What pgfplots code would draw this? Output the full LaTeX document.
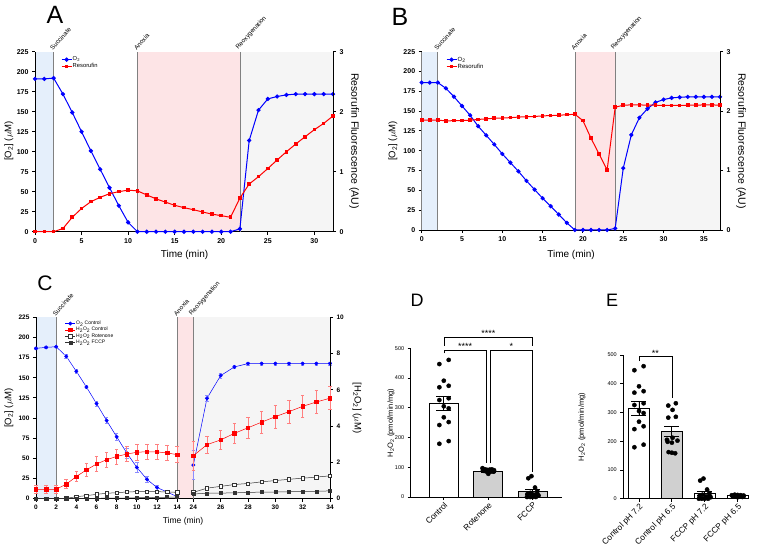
\documentclass[border=0pt]{standalone}
\usepackage{fontspec}
\setmainfont{Liberation Sans}
\usepackage{pgfplots}
\usepackage{pgfplotstable}
\pgfplotsset{compat=1.18}
\definecolor{cblue}{HTML}{0000FF}
\definecolor{cred}{HTML}{FF0000}
\definecolor{shblue}{HTML}{E5EFFB}
\definecolor{shpink}{HTML}{FDE4E6}
\definecolor{shgray}{HTML}{F5F5F5}
\definecolor{vgray}{HTML}{808080}
\definecolor{bargray}{HTML}{D0D0D0}
\definecolor{dgray}{HTML}{333333}
\newcommand{\fs}[1]{\fontsize{#1}{#1}\selectfont}

\pgfplotsset{
  base/.style={scale only axis, anchor=south west, clip=false,
    /pgf/number format/assume math mode=true,
    axis line style={line width=0.9pt, black},
    tick style={line width=0.9pt, black},
    major tick length=3pt, tick align=outside,
    tick label style={font=\fs{7}\bfseries},
  },
  tl/.style={base, set layers},
  leg/.style={legend cell align=left,
    legend style={draw=none, fill=none, font=\fs{#1}, nodes={inner sep=0.6pt}, row sep=0pt},
    legend image code/.code={\draw[mark repeat=2,mark phase=2,##1] plot coordinates {(0pt,0pt) (5pt,0pt) (10pt,0pt)};}},
  bars/.style={scale only axis, anchor=south west, clip=false,
    /pgf/number format/assume math mode=true,
    axis x line*=bottom, axis y line*=left,
    axis line style={line width=0.9pt, black},
    tick style={line width=0.8pt, black}, major tick length=3pt, tick align=outside,
    ymin=0, ymax=500, ytick={0,100,...,500},
    yticklabel style={font=\fs{5.5}},
    xticklabel style={rotate=45, anchor=north east, font=\fs{8.3}, inner sep=1pt},
  },
  bp/.style={ybar, bar shift=0pt, bar width=0.65, draw=black, line width=0.9pt,
    error bars/.cd, y dir=both, y explicit,
    error bar style={line width=0.9pt, black},
    error mark options={rotate=90, mark size=7.5pt, line width=0.9pt, black}},
  dots/.style={only marks, mark=*, mark size=2.1pt, black},
}

\newcommand{\vl}[3]{\draw[vgray, line width=0.7pt] (axis cs:#1,0) -- (axis cs:#1,#3) node[anchor=south west, rotate=48, font=\fs{6.3}, inner sep=0.8pt, xshift=-0.8pt, black] {#2};}

\pgfplotstableread{
t o2 res
0 191 0
1 191 0
2 192 0
3 172 0.053
4 149 0.24
5 125 0.387
6 101 0.5
7 78 0.573
8 55 0.633
9 32.5 0.667
10 11.7 0.693
11 0 0.68
12 0 0.613
13 0 0.547
14 0 0.493
15 0 0.44
16 0 0.4
17 0 0.367
18 0 0.328
19 0 0.293
20 0 0.267
21 0 0.24
22 3.5 0.56
23 114 0.795
24 152 0.917
25 166 1.053
26 169 1.195
27 171 1.333
28 172 1.461
29 172 1.583
30 172 1.7
31 172 1.805
32 172 1.928
}\tabA

\pgfplotstableread{
t o2 res
0 186 1.85
1 186 1.85
2 186 1.85
3 178.8 1.835
4 168.2 1.84
5 156.5 1.843
6 144.8 1.847
7 131 1.86
8 119.5 1.87
9 108 1.88
10 96 1.885
11 85 1.89
12 74 1.9
13 62 1.905
14 51 1.91
15 40 1.92
16 30 1.925
17 19.5 1.93
18 9 1.94
19 0 1.947
20 0 1.84
21 0 1.543
22 0 1.279
23 0 1.01
24 2 2.065
25 78 2.1
26 120 2.105
27 141.7 2.105
28 153 2.1
29 161 2.1
30 164.6 2.095
31 166.7 2.095
32 167.5 2.095
33 168 2.1
34 168 2.1
35 168 2.105
36 168 2.105
37 168 2.1
}\tabB

\pgfplotstableread{
t o2 e
0 186.5 1
1 187.7 1
2 188.5 1
3 176.6 2
4 158 2
5 138.5 2
6 118 3
7 97 4
8 76.7 4
9 56.7 6
10 38.8 6
11 24 4
12 13.8 3
13 8.3 2
14 2.5 2
19 nan 0
24 41.7 18
25 124.6 4
26 152.7 3
27 163.4 2
28 167.6 2
29 167.6 2
30 167.6 2
31 167.6 2
32 167.6 2
33 167.6 2
34 167.6 2
}\tabCo

\pgfplotstableread{
t hc ec hr hf
0 0.52 0.22 0 0
1 0.52 0.22 0 0
2 0.52 0.22 0 0
3 0.80 0.25 0.02 0
4 1.22 0.28 0.11 0
5 1.59 0.35 0.17 0.02
6 1.91 0.40 0.24 0.02
7 2.15 0.42 0.30 0.03
8 2.33 0.42 0.33 0.03
9 2.46 0.42 0.37 0.04
10 2.56 0.42 0.39 0.05
11 2.59 0.42 0.39 0.06
12 2.58 0.42 0.39 0.07
13 2.52 0.42 0.37 0.08
14 2.43 0.45 0.35 0.09
19 nan 0 nan nan
24 2.37 0.8 0.35 0.26
25 2.98 0.45 0.58 0.30
26 3.24 0.53 0.68 0.31
27 3.60 0.55 0.78 0.32
28 3.91 0.57 0.84 0.35
29 4.22 0.60 0.93 0.36
30 4.52 0.62 1.00 0.37
31 4.80 0.63 1.07 0.38
32 5.09 0.63 1.13 0.40
33 5.33 0.63 1.19 0.41
34 5.54 0.63 1.26 0.43
}\tabCh

\begin{document}
\begin{tikzpicture}

%%%%%%%%%%%%%%%% Panel A
\begin{axis}[tl, leg=5.8, at={(35pt,314.3pt)}, width=298pt, height=180pt,
  xmin=0, xmax=32, ymin=0, ymax=225,
  axis x line*=bottom, axis y line*=left,
  xtick={0,5,...,30}, ytick={0,25,...,225},
  legend style={at={(0.077,0.987)}, anchor=north west}]
\begin{pgfonlayer}{axis background}
\fill[shblue] (axis cs:0,0) rectangle (axis cs:2,225);
\fill[shpink] (axis cs:11,0) rectangle (axis cs:22,225);
\fill[shgray] (axis cs:22,0) rectangle (axis cs:32,225);
\end{pgfonlayer}
\vl{2}{Succinate}{225}
\vl{11}{Anoxia}{225}
\vl{22}{Reoxygenation}{225}
\addplot[cblue, line width=1pt, mark=*, mark size=1.6pt] table[x=t,y=o2]{\tabA};
\addlegendentry{O\textsubscript{2}}
\addlegendimage{cred, line width=1pt, mark=square*, mark size=1.3pt}
\addlegendentry{Resorufin}
\end{axis}
\begin{axis}[base, at={(35pt,314.3pt)}, width=298pt, height=180pt,
  xmin=0, xmax=32, ymin=0, ymax=3,
  axis y line*=right, axis x line=none, ytick={0,1,2,3}]
\addplot[cred, line width=1pt, mark=square*, mark size=1.3pt] table[x=t,y=res]{\tabA};
\end{axis}

%%%%%%%%%%%%%%%% Panel B
\begin{axis}[tl, leg=6, at={(421.7pt,316pt)}, width=298.3pt, height=178.3pt,
  xmin=0, xmax=37, ymin=0, ymax=225,
  axis x line*=bottom, axis y line*=left,
  xtick={0,5,...,35}, ytick={0,25,...,225},
  legend style={at={(0.071,0.987)}, anchor=north west}]
\begin{pgfonlayer}{axis background}
\fill[shblue] (axis cs:0,0) rectangle (axis cs:2,225);
\fill[shpink] (axis cs:19,0) rectangle (axis cs:24,225);
\fill[shgray] (axis cs:24,0) rectangle (axis cs:37,225);
\end{pgfonlayer}
\draw[vgray, line width=0.7pt] (axis cs:0,0) -- (axis cs:0,225);
\vl{2}{Succinate}{225}
\vl{19}{Anoxia}{225}
\vl{24}{Reoxygenation}{225}
\addplot[cblue, line width=1pt, mark=*, mark size=1.6pt] table[x=t,y=o2]{\tabB};
\addlegendentry{O\textsubscript{2}}
\addlegendimage{cred, line width=1pt, mark=square*, mark size=1.3pt}
\addlegendentry{Resorufin}
\end{axis}
\begin{axis}[base, at={(421.7pt,316pt)}, width=298.3pt, height=178.3pt,
  xmin=0, xmax=37, ymin=0, ymax=3,
  axis y line*=right, axis x line=none, ytick={0,1,2,3}]
\addplot[cred, line width=1pt, mark=square*, mark size=1.3pt] table[x=t,y=res]{\tabB};
\end{axis}

%%%%%%%%%%%%%%%% Panel C
\begin{axis}[tl, at={(36pt,47.3pt)}, width=294pt, height=181.4pt,
  xmin=0, xmax=29.15, ymin=0, ymax=225,
  axis x line*=bottom, axis y line*=left,
  xtick={0,2,4,6,8,10,12,14,15.6,18.31,21.02,23.73,26.44,29.15},
  xticklabels={0,2,4,6,8,10,12,14,24,26,28,30,32,34},
  ytick={0,25,...,225}, tick label style={font=\fs{6.5}\bfseries}]
\begin{pgfonlayer}{axis background}
\fill[shblue] (axis cs:0,0) rectangle (axis cs:2,225);
\fill[shpink] (axis cs:14,0) rectangle (axis cs:15.6,225);
\fill[shgray] (axis cs:15.6,0) rectangle (axis cs:29.15,225);
\end{pgfonlayer}
\vl{2}{Succinate}{225}
\vl{14}{Anoxia}{225}
\vl{15.6}{Reoxygenation}{225}
\addplot[cblue, line width=0.5pt, mark=*, mark size=1.7pt, unbounded coords=jump,
  error bars/.cd, y dir=both, y explicit,
  error bar style={cblue!45, line width=0.6pt},
  error mark options={rotate=90, mark size=1.8pt, cblue!45, line width=0.6pt}]
  table[x expr={\thisrow{t}<20 ? \thisrow{t} : 15.6+1.355*(\thisrow{t}-24)}, y=o2, y error=e]{\tabCo};
\end{axis}
\begin{axis}[base, leg=5, at={(36pt,47.3pt)}, width=294pt, height=181.4pt,
  xmin=0, xmax=29.15, ymin=0, ymax=10,
  axis y line*=right, axis x line=none, ytick={0,2,...,10},
  tick label style={font=\fs{6.5}\bfseries},
  legend style={at={(0.088,0.995)}, anchor=north west}]
\addlegendimage{cblue, line width=0.5pt, mark=*, mark size=1.7pt}
\addlegendentry{O\textsubscript{2} Control}
\addplot[cred, line width=0.5pt, mark=square*, mark size=1.7pt, unbounded coords=jump,
  error bars/.cd, y dir=both, y explicit,
  error bar style={cred!50, line width=0.6pt},
  error mark options={rotate=90, mark size=1.8pt, cred!50, line width=0.6pt}]
  table[x expr={\thisrow{t}<20 ? \thisrow{t} : 15.6+1.355*(\thisrow{t}-24)}, y=hc, y error=ec]{\tabCh};
\addlegendentry{H\textsubscript{2}O\textsubscript{2} Control}
\addplot[dgray, line width=0.5pt, mark=square*, mark size=1.7pt, mark options={fill=white}, unbounded coords=jump]
  table[x expr={\thisrow{t}<20 ? \thisrow{t} : 15.6+1.355*(\thisrow{t}-24)}, y=hr]{\tabCh};
\addlegendentry{H\textsubscript{2}O\textsubscript{2} Rotenone}
\addplot[dgray, line width=0.5pt, mark=square*, mark size=1.5pt, unbounded coords=jump]
  table[x expr={\thisrow{t}<20 ? \thisrow{t} : 15.6+1.355*(\thisrow{t}-24)}, y=hf]{\tabCh};
\addlegendentry{H\textsubscript{2}O\textsubscript{2} FCCP}
\end{axis}

%%%%%%%%%%%%%%%% Panel D
\begin{axis}[bars, at={(410.7pt,49pt)}, width=151pt, height=148.7pt,
  xmin=-0.744, xmax=2.65, xtick={0,1,2}, xticklabels={Control,Rotenone,FCCP}]
\addplot[fill=white, bp] coordinates {(0,315) +- (0,24)};
\addplot[fill=bargray, bp] coordinates {(1,87) +- (0,3)};
\addplot[fill=bargray, bp] coordinates {(2,18) +- (0,8)};
\addplot[dots] coordinates {(-0.1,447) (0.11,461) (0,391) (-0.1,369) (0.11,374) (-0.1,326) (0.11,332) (0,305) (0.11,298) (0,268) (-0.1,242) (0.11,252) (-0.1,179) (0.11,188)};
\addplot[dots] coordinates {(0.87,97) (0.93,93) (0.98,91) (1.03,92) (1.08,93) (1.13,90) (0.9,88) (0.95,86) (1.0,78) (1.05,85) (1.1,87) (0.88,90) (1.12,85)};
\addplot[dots] coordinates {(1.9,63) (1.97,70) (2.05,32) (2.1,20) (1.88,10) (1.95,14) (2.02,8) (1.87,0) (1.94,0) (2.0,0) (2.07,0) (2.13,5) (2.1,12)};
\draw[line width=0.6pt] (axis cs:0,508) -- (axis cs:0,537) -- (axis cs:2,537) -- (axis cs:2,508);
\node[anchor=south, font=\fs{9}, inner sep=0.5pt] at (axis cs:1,537) {****};
\draw[line width=0.6pt] (axis cs:0,483) -- (axis cs:0,493) -- (axis cs:0.96,493) -- (axis cs:0.96,113);
\node[anchor=south, font=\fs{9}, inner sep=0.5pt] at (axis cs:0.48,493) {****};
\draw[line width=0.6pt] (axis cs:1.04,113) -- (axis cs:1.04,493) -- (axis cs:2,493) -- (axis cs:2,85);
\node[anchor=south, font=\fs{9}, inner sep=0.5pt] at (axis cs:1.52,493) {*};
\end{axis}

%%%%%%%%%%%%%%%% Panel E
\begin{axis}[bars, at={(623.3pt,47.3pt)}, width=125.9pt, height=143.7pt,
  xmin=-0.477, xmax=3.35, xtick={0,1,2,3},
  xticklabels={Control pH 7.2,Control pH 6.5,FCCP pH 7.2,FCCP pH 6.5}]
\addplot[fill=white, bp] coordinates {(0,315) +- (0,24)};
\addplot[fill=bargray, bp] coordinates {(1,233) +- (0,18)};
\addplot[fill=white, bp] coordinates {(2,18) +- (0,8)};
\addplot[fill=white, bp] coordinates {(3,10) +- (0,2)};
\addplot[dots] coordinates {(-0.14,447) (0.14,461) (0,391) (-0.14,369) (0.14,374) (-0.14,326) (0.14,332) (0,305) (0.14,298) (0,268) (-0.14,242) (0.14,252) (-0.14,179) (0.14,188)};
\addplot[dots] coordinates {(0.89,324) (1.12,332) (1.02,309) (0.89,282) (1.12,285) (1.02,212) (0.85,205) (1.17,202) (0.87,198) (1.0,195) (0.9,162) (1.1,158) (1.0,160)};
\addplot[dots] coordinates {(1.86,63) (1.96,70) (2.07,32) (2.14,20) (1.84,10) (1.93,14) (2.03,8) (1.82,0) (1.91,0) (2.0,0) (2.1,0) (2.18,5) (2.14,12)};
\addplot[dots] coordinates {(2.82,12) (2.91,14) (3.0,13) (3.09,12) (3.18,11) (2.86,8) (2.95,7) (3.05,9) (3.14,6) (2.84,10) (3.12,10) (3.0,5) (3.18,8)};
\draw[line width=0.6pt] (axis cs:0,479) -- (axis cs:0,494) -- (axis cs:1,494) -- (axis cs:1,349);
\node[anchor=south, font=\fs{9}, inner sep=0.5pt] at (axis cs:0.5,494) {**};
\end{axis}

%%%%%%%%%%%%%%%% labels
\node[font=\fs{25}] at (55pt,531pt) {A};
\node[font=\fs{25}] at (400pt,529pt) {B};
\node[font=\fs{21}] at (45pt,263pt) {C};
\node[font=\fs{18}] at (417pt,246pt) {D};
\node[font=\fs{18}] at (612pt,246pt) {E};

\node[font=\fs{10}] at (184.5pt,291pt) {Time (min)};
\node[font=\fs{9.5}, rotate=90] at (9pt,405pt) {[O\textsubscript{2}] ($\mu$M)};
\node[font=\fs{10.5}, rotate=-90] at (354pt,405pt) {Resorufin Fluorescence (AU)};

\node[font=\fs{10}] at (571pt,291pt) {Time (min)};
\node[font=\fs{9.5}, rotate=90] at (393pt,405pt) {[O\textsubscript{2}] ($\mu$M)};
\node[font=\fs{10.5}, rotate=-90] at (741pt,405pt) {Resorufin Fluorescence (AU)};

\node[font=\fs{8.5}] at (183pt,25pt) {Time (min)};
\node[font=\fs{9.5}, rotate=90] at (9pt,138pt) {[O\textsubscript{2}] ($\mu$M)};
\node[font=\fs{9.5}, rotate=-90] at (357pt,138pt) {[H\textsubscript{2}O\textsubscript{2}] ($\mu$M)};

\node[font=\fs{7.5}, rotate=90] at (391pt,123pt) {H\textsubscript{2}O\textsubscript{2} (pmol/min/mg)};
\node[font=\fs{7.5}, rotate=90] at (582pt,119pt) {H\textsubscript{2}O\textsubscript{2} (pmol/min/mg)};

\pgfresetboundingbox
\path (0,0) rectangle (764pt,546pt);
\end{tikzpicture}
\end{document}
